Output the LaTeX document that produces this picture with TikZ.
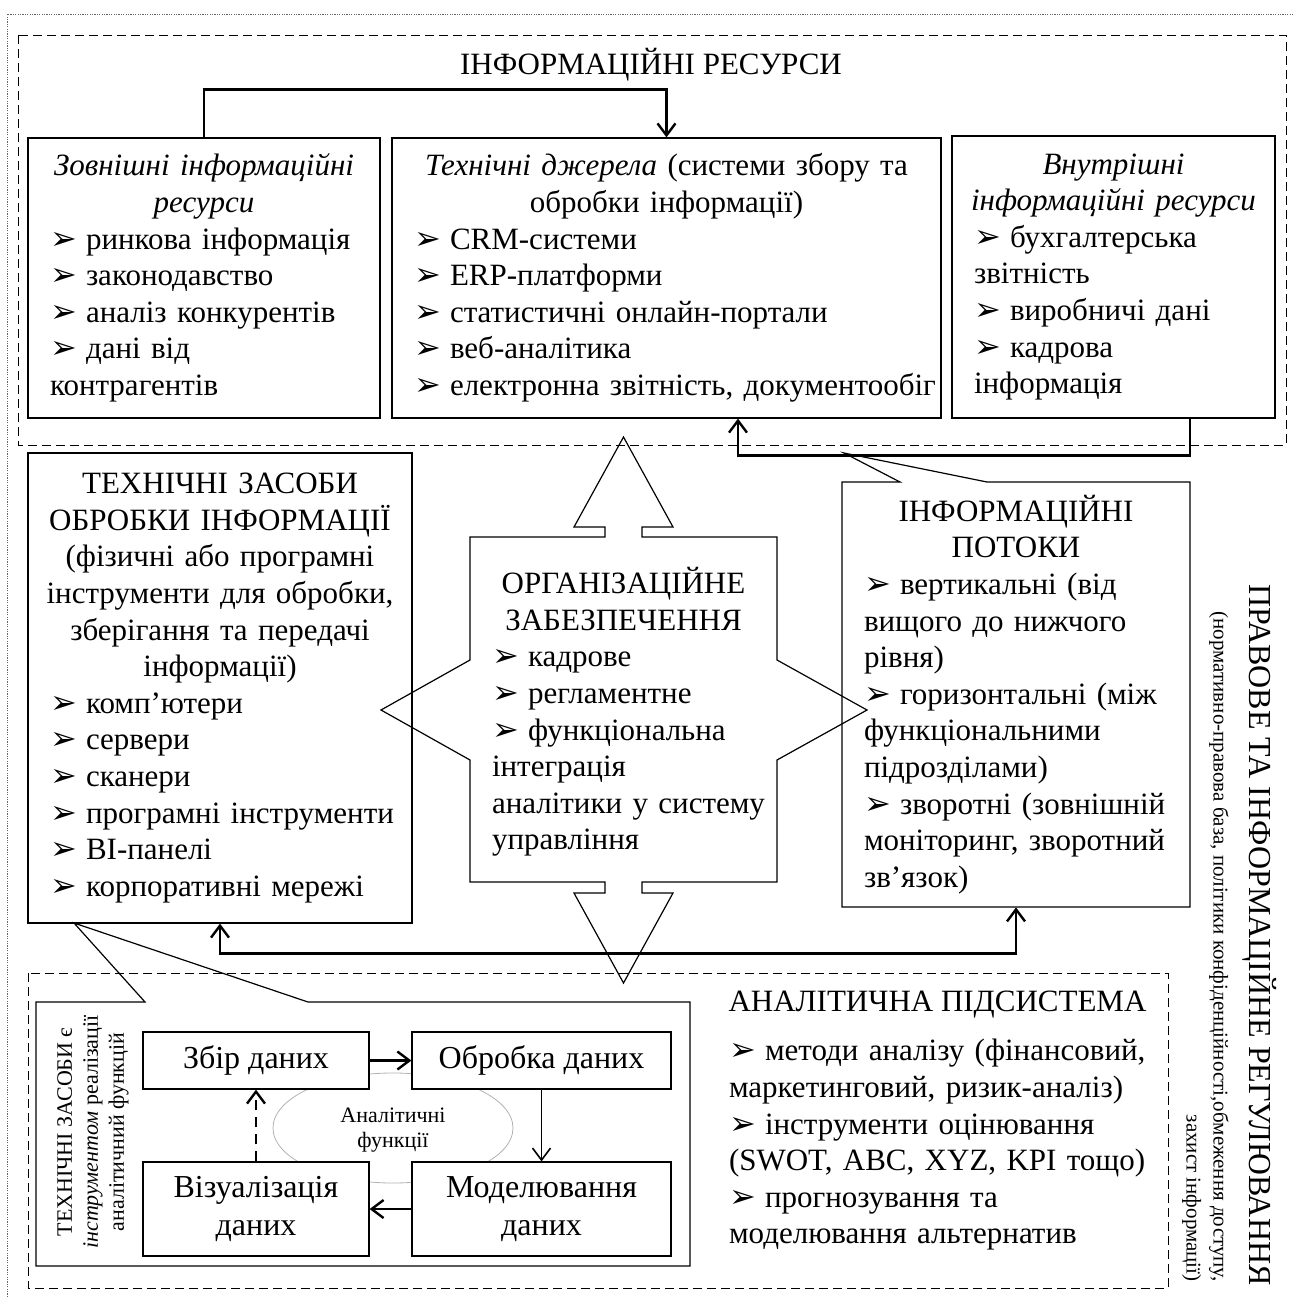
\documentclass[tikz,border=0pt]{standalone}
\usepackage{fontspec}
\setmainfont{Liberation Serif}
\newfontfamily\dingfont{DejaVu Sans}
\usetikzlibrary{arrows.meta}

\newcommand{\bul}{\makebox[18pt][l]{\dingfont\fontsize{16}{16}\selectfont ➢}}
\newcommand{\fs}[2]{\fontsize{#1}{#2}\selectfont}
% centred heading / ragged list that may run a little past the text width
\newcommand{\headc}{\centering\leftskip=-15pt plus 1fil\relax\rightskip=-15pt plus 1fil\relax}
\newcommand{\listl}{\rightskip=-30pt plus 2em\relax}

\tikzset{
  box/.style={draw, line width=0.6pt, font=\fs{15.5}{18.3}, inner xsep=11pt, inner ysep=0pt, align=left},
  textblock/.style={font=\fs{15.5}{18.3}, inner xsep=11pt, inner ysep=0pt, align=left},
  stage/.style={draw, line width=0.6pt, fill=white, align=center, font=\fs{16}{19}, inner sep=0pt},
  outline/.style={line width=0.6pt},
  dashframe/.style={line width=0.5pt, dash pattern=on 4.5pt off 2.5pt},
  dotframe/.style={line width=0.5pt, gray!80!black, dash pattern=on 0.6pt off 0.6pt},
  flow/.style={line width=1.2pt, -{Straight Barb[length=6pt,width=9pt]}},
  flowboth/.style={line width=1.2pt, {Straight Barb[length=6pt,width=9pt]}-{Straight Barb[length=6pt,width=9pt]}},
}

\begin{document}
\begin{tikzpicture}[x=0.5pt,y=-0.5pt]
\useasboundingbox (0,0) rectangle (1292,1297);

% рамки
\draw[dotframe] (7,1297) -- (7,14) -- (1292,14);
\draw[dashframe] (18,35) rectangle (1286,445);
\draw[dashframe] (28,973) rectangle (1168,1288);

% інформаційні ресурси
\node[font=\fs{15.5}{18}] (res) at (651,65) {ІНФОРМАЦІЙНІ РЕСУРСИ};

\node[box, text width=154pt, minimum height=140pt] (ext) at (204,278) {%
  {\headc\textit{Зовнішні інформаційні\\ресурси}\par}\listl
  \bul ринкова інформація\\
  \bul законодавство\\
  \bul аналіз конкурентів\\
  \bul дані від\\
  контрагентів};
\node[box, text width=252.5pt, minimum height=140pt] (tech) at (666.5,278) {%
  {\headc\textit{Технічні джерела} (системи збору та\\обробки інформації)\par}\listl
  \bul CRM-системи\\
  \bul ERP-платформи\\
  \bul статистичні онлайн-портали\\
  \bul веб-аналітика\\
  \mbox{\bul електронна звітність, документообіг}};
\node[box, text width=139.5pt, minimum height=141pt] (int) at (1113.5,277) {%
  {\headc\textit{Внутрішні\\інформаційні ресурси}\par}\listl
  \bul бухгалтерська\\
  звітність\\
  \bul виробничі дані\\
  \bul кадрова\\
  інформація};

\draw[flow] (ext.north) -- ++(0,-48) -| (tech.north);
\draw[flow] ([xshift=38.25pt]int.south) -- ++(0,37) -| ([xshift=35.75pt]tech.south);

% технічні засоби
\node[box, text width=170pt, minimum height=235pt] (tz) at (220,688) {%
  {\headc ТЕХНІЧНІ ЗАСОБИ\\ОБРОБКИ ІНФОРМАЦІЇ\\(фізичні або програмні\\інструменти для обробки,\\зберігання та передачі\\інформації)\par}\listl
  \bul комп’ютери\\
  \bul сервери\\
  \bul сканери\\
  \mbox{\bul програмні інструменти}\\
  \bul BI-панелі\\
  \bul корпоративні мережі};

% організаційне забезпечення
\draw[outline] (470,537) -- (605,537) -- (605,527) -- (574,527) -- (623.5,437)
  -- (673,527) -- (642,527) -- (642,537) -- (777,537) -- (777,660) -- (867,710)
  -- (777,760) -- (777,882) -- (642,882) -- (642,893) -- (673,893) -- (623.5,983)
  -- (574,893) -- (605,893) -- (605,882) -- (470,882) -- (470,760) -- (381,710)
  -- (470,660) -- cycle;
\node[textblock, text width=131.5pt, minimum height=172.5pt] (org) at (623.5,712) {%
  {\headc ОРГАНІЗАЦІЙНЕ\\ЗАБЕЗПЕЧЕННЯ\par}\listl
  \bul кадрове\\
  \bul регламентне\\
  \bul функціональна\\
  інтеграція\\
  \mbox{аналітики у систему}\\
  управління};

% інформаційні потоки
\draw[outline] (842,482) -- (900,482) -- (844,453) -- (987,482) -- (1190,482)
  -- (1190,907) -- (842,907) -- cycle;
\node[textblock, text width=152pt, minimum height=212.5pt] (flows) at (1016,694.5) {%
  {\headc ІНФОРМАЦІЙНІ\\ПОТОКИ\par}\listl
  \bul вертикальні (від\\
  вищого до нижчого\\
  рівня)\\
  \mbox{\bul горизонтальні (між}\\
  функціональними\\
  підрозділами)\\
  \mbox{\bul зворотні (зовнішній}\\
  \mbox{моніторинг, зворотний}\\
  зв’язок)};

\draw[flowboth] (tz.south) -- ++(0,30) -| (flows.south);

% аналітична підсистема
\draw[outline] (36,1002) -- (145,1002) -- (74,923) -- (308,1002) -- (690,1002)
  -- (690,1266) -- (36,1266) -- cycle;
\node[font=\fs{11}{13}, rotate=90, align=center] (role) at (93,1132) {%
  ТЕХНІЧНІ ЗАСОБИ є\\\textit{інструментом} реалізації\\аналітичний функцій};

\draw[gray!60, line width=0.4pt] (393,1128) ellipse [x radius=60pt, y radius=27.5pt];
\node[stage, minimum width=113pt, minimum height=28.5pt] (collect) at (256,1060.5) {Збір даних};
\node[stage, minimum width=129.5pt, minimum height=28.5pt] (process) at (541.5,1060.5) {Обробка даних};
\node[stage, minimum width=113pt, minimum height=47pt] (visual) at (256,1209) {Візуалізація\\даних};
\node[stage, minimum width=129.5pt, minimum height=47pt] (model) at (541.5,1209) {Моделювання\\даних};
\node[font=\fs{11}{12.5}, align=center] (afunc) at (393,1130) {Аналітичні\\функції};

\draw[flow] (collect) -- (process);
\draw[flow, line width=0.8pt] (process) -- (model);
\draw[flow] (model) -- (visual);
\draw[flow, dash pattern=on 5pt off 3.5pt] (visual) -- (collect);

\node[font=\fs{15.5}{18}] (asub) at (937.5,1005) {АНАЛІТИЧНА ПІДСИСТЕМА};
\node[textblock, inner xsep=0pt, text width=212pt] (amethods) at (941,1145) {%
  \listl
  \mbox{\bul методи аналізу (фінансовий,}\\
  \mbox{маркетинговий, ризик-аналіз)}\\
  \bul інструменти оцінювання\\
  \mbox{(SWOT, ABC, XYZ, KPI тощо)}\\
  \bul прогнозування та\\
  моделювання альтернатив};

% правове регулювання
\node[font=\fs{16}{18}, rotate=-90] (law) at (1260,935) {ПРАВОВЕ ТА ІНФОРМАЦІЙНЕ РЕГУЛЮВАННЯ};
\node[font=\fs{10.5}{13.5}, rotate=-90, align=right, anchor=north east, inner sep=0pt] (lawsub) at (1229,1282) {%
  (нормативно-правова база, політики конфіденційності,обмеження доступу,\\захист інформації)};
\end{tikzpicture}
\end{document}
